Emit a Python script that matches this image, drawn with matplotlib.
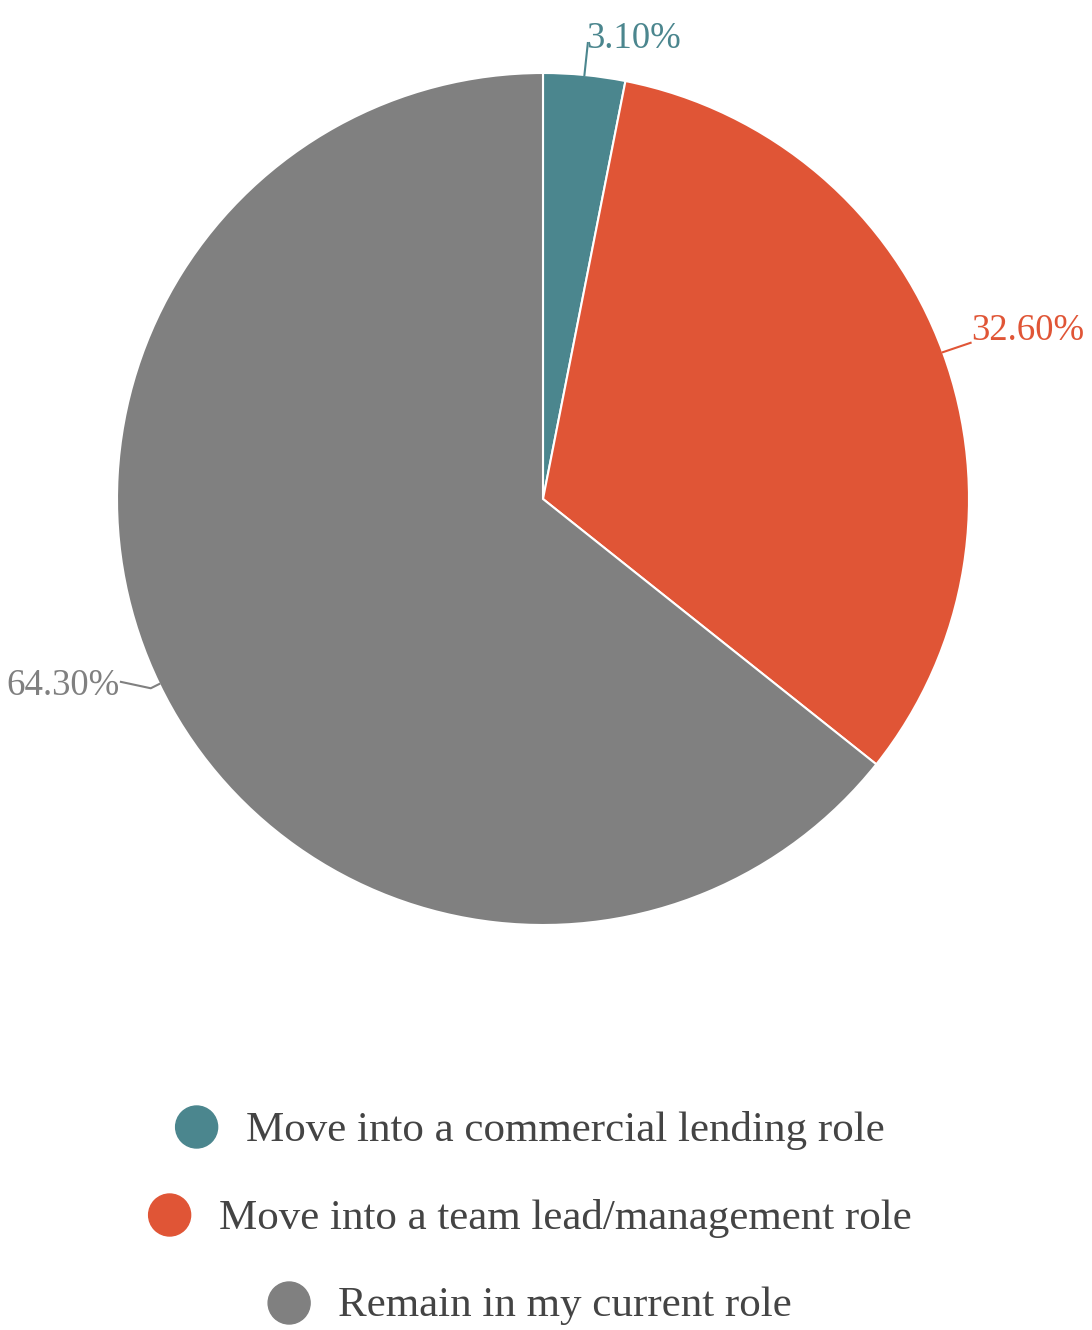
import matplotlib
matplotlib.use("Agg")
import matplotlib.pyplot as plt
from matplotlib.patches import Circle
import numpy as np

labels = ["Move into a commercial lending role",
          "Move into a team lead/management role",
          "Remain in my current role"]
values = [3.10, 32.60, 64.30]
value_labels = ["3.10%", "32.60%", "64.30%"]
colors = ["#4B868E", "#E05536", "#808080"]

W, H = 1092, 1330
fig = plt.figure(figsize=(W / 100, H / 100), dpi=100)
FONT = "Liberation Serif"
LFS = 26.5

cx, cy, R = 543, 499, 426
ax = fig.add_axes([(cx - R) / W, (H - cy - R) / H, 2 * R / W, 2 * R / H])
ax.pie(values, colors=colors, startangle=90, counterclock=False, radius=1,
       wedgeprops=dict(edgecolor="white", linewidth=1.5))
ax.set_xlim(-1, 1)
ax.set_ylim(-1, 1)
ax.set_aspect("equal")
ax.axis("off")

# label leader lines and texts
cum = np.cumsum([0] + values)
total = sum(values)
for i, v in enumerate(values):
    mid = 90 - (cum[i] + v / 2) / total * 360
    a = np.deg2rad(mid)
    x0, y0 = np.cos(a), np.sin(a)
    if i == 0:
        x1, y1 = x0 + 0.008, y0 + 0.075
        ax.plot([x0, x1], [y0, y1], color=colors[i], lw=1.5, clip_on=False)
        ax.text(x1 - 0.004, y1 - 0.03, value_labels[i], color=colors[i], fontsize=LFS,
                family=FONT, ha="left", va="bottom")
    elif i == 1:
        x1, y1 = x0 + 0.065, y0 + 0.022
        ax.plot([x0, x1], [y0, y1], color=colors[i], lw=1.5, clip_on=False)
        ax.text(x1 + 0.002, y1 - 0.012, value_labels[i], color=colors[i], fontsize=LFS,
                family=FONT, ha="left", va="bottom")
    else:
        xm, ym = x0 - 0.02, y0 - 0.01
        x1, y1 = x0 - 0.09, y0 + 0.005
        ax.plot([x0, xm, x1], [y0, ym, y1], color=colors[i], lw=1.5, clip_on=False)
        ax.text(x1 - 0.002, y1 - 0.01, value_labels[i], color=colors[i], fontsize=LFS,
                family=FONT, ha="right", va="center")

# legend in pixel coordinates
lax = fig.add_axes([0, 0, 1, 1])
lax.set_xlim(0, W)
lax.set_ylim(H, 0)
lax.axis("off")
fig.canvas.draw()
renderer = fig.canvas.get_renderer()
row_y = [1130, 1218, 1306]
center_x = 530
r_mark = 21
gap = 28
for lab, col, y in zip(labels, colors, row_y):
    t = lax.text(0, y, lab, fontsize=31, family=FONT, color="#444444",
                 ha="left", va="center")
    w = t.get_window_extent(renderer).width
    tot = 2 * r_mark + gap + w
    x0 = center_x - tot / 2
    lax.add_patch(Circle((x0 + r_mark, y - 3), r_mark, color=col))
    t.set_x(x0 + 2 * r_mark + gap)

fig.savefig("out.png", dpi=100, facecolor="white")
